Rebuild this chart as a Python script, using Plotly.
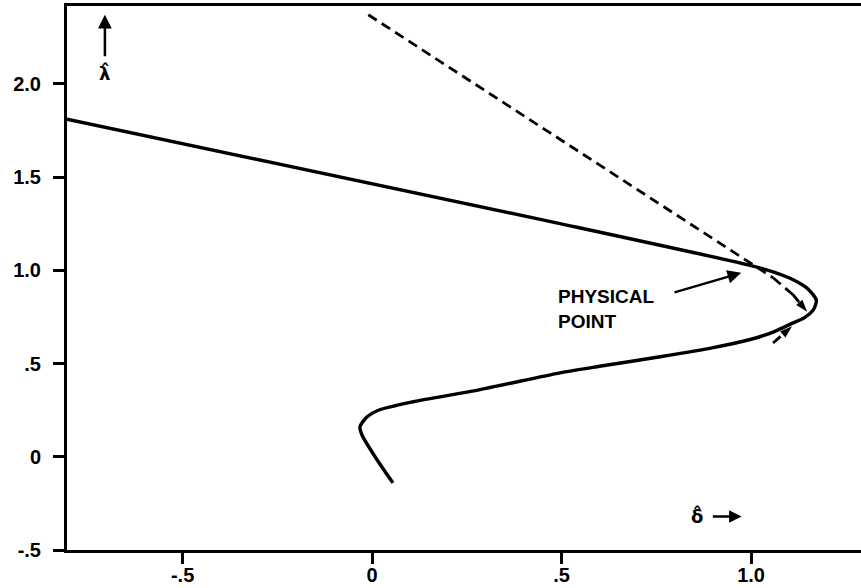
import plotly.graph_objects as go

# Solid curve (lambda-hat vs delta-hat)
solid_x = [-0.805, 0.496, 1.0, 1.06, 1.111, 1.15, 1.172, 1.165, 1.14, 1.111, 1.06, 1.0,
           0.9, 0.76, 0.6, 0.496, 0.285, 0.108, 0.02, -0.013, -0.032, -0.027, 0.013, 0.055]
solid_y = [1.81, 1.25, 1.025, 0.99, 0.949, 0.9, 0.84, 0.79, 0.745, 0.718, 0.67, 0.63,
           0.585, 0.536, 0.485, 0.45, 0.36, 0.295, 0.252, 0.214, 0.161, 0.118, -0.016, -0.14]

# Dashed flow lines
dash_top_x = [-0.01, 0.997, 1.058, 1.11, 1.148]
dash_top_y = [2.37, 1.045, 0.96, 0.87, 0.777]
dash_low_x = [1.058, 1.108]
dash_low_y = [0.61, 0.70]

x_tickvals = [-0.5, 0, 0.5, 1.0]
x_ticktext = ["-.5", "0", ".5", "1.0"]
y_tickvals = [-0.5, 0, 0.5, 1.0, 1.5, 2.0]
y_ticktext = ["-.5", "0", ".5", "1.0", "1.5", "2.0"]

FONT = "Liberation Sans"

fig = go.Figure()
fig.add_trace(go.Scatter(x=solid_x, y=solid_y, mode="lines",
                         line=dict(color="black", width=3.4, shape="spline", smoothing=0.7),
                         hoverinfo="skip"))
fig.add_trace(go.Scatter(x=dash_top_x, y=dash_top_y, mode="lines+markers",
                         line=dict(color="black", width=2.8, dash="10px,6px"),
                         marker=dict(symbol="arrow", angleref="previous", color="black",
                                     line=dict(width=0), opacity=1,
                                     size=[0] * (len(dash_top_x) - 1) + [13]),
                         hoverinfo="skip"))
fig.add_trace(go.Scatter(x=dash_low_x, y=dash_low_y, mode="lines+markers",
                         line=dict(color="black", width=2.8, dash="10px,6px"),
                         marker=dict(symbol="arrow", angleref="previous", color="black",
                                     line=dict(width=0), opacity=1,
                                     size=[0, 13]),
                         hoverinfo="skip"))

annos = [
    # PHYSICAL POINT arrow
    dict(x=0.974, y=0.986, ax=0.794, ay=0.879, xref="x", yref="y", axref="x", ayref="y",
         text="", showarrow=True, arrowhead=2, arrowsize=1.1, arrowwidth=2.5, arrowcolor="black"),
    dict(x=0.484, y=0.79, xref="x", yref="y", text="<b>PHYSICAL<br>POINT</b>",
         showarrow=False, xanchor="left", yanchor="middle", align="left",
         font=dict(family=FONT, size=19, color="black")),
    # lambda-hat axis arrow
    dict(x=-0.705, y=2.37, ax=-0.705, ay=2.14, xref="x", yref="y", axref="x", ayref="y",
         text="", showarrow=True, arrowhead=2, arrowsize=1.1, arrowwidth=2.5, arrowcolor="black"),
    dict(x=-0.705, y=2.06, xref="x", yref="y", text="<b>λ\u0302</b>", showarrow=False,
         font=dict(family="DejaVu Sans", size=18, color="black")),
    # delta-hat axis arrow
    dict(x=0.975, y=-0.32, ax=0.895, ay=-0.32, xref="x", yref="y", axref="x", ayref="y",
         text="", showarrow=True, arrowhead=2, arrowsize=1.0, arrowwidth=2.5, arrowcolor="black"),
    dict(x=0.857, y=-0.315, xref="x", yref="y", text="<b>δ\u0302</b>", showarrow=False,
         font=dict(family="DejaVu Sans", size=18, color="black")),
]

fig.update_layout(
    width=861, height=588,
    margin=dict(l=67, r=0, t=6, b=38),
    paper_bgcolor="white", plot_bgcolor="white",
    showlegend=False,
    annotations=annos,
    xaxis=dict(range=[-0.805, 1.29], showgrid=False, zeroline=False, automargin=False,
               showline=True, linecolor="black", linewidth=3, mirror=True,
               tickmode="array", tickvals=x_tickvals, ticktext=x_ticktext,
               ticks="outside", ticklen=11, tickwidth=3, tickcolor="black",
               ticklabelstandoff=-6,
               tickfont=dict(family=FONT, size=20, color="black", weight="bold")),
    yaxis=dict(range=[-0.5, 2.417], showgrid=False, zeroline=False, automargin=False,
               showline=True, linecolor="black", linewidth=3, mirror=False,
               tickmode="array", tickvals=y_tickvals, ticktext=y_ticktext,
               ticks="outside", ticklen=11, tickwidth=3, tickcolor="black",
               ticklabelstandoff=8,
               tickfont=dict(family=FONT, size=20, color="black", weight="bold")),
)

fig.write_html("out.html", config={"displayModeBar": False},
               post_script="document.body.style.margin='0';")
